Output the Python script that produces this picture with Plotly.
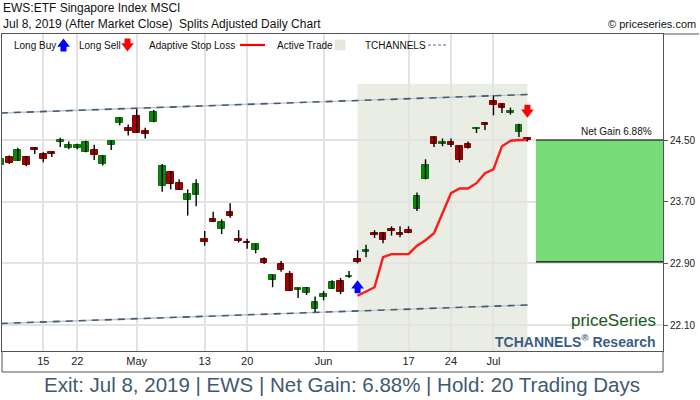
import plotly.graph_objects as go

# ---------------- data ----------------
TITLE = "EWS:ETF Singapore Index MSCI"
SUBTITLE = "Jul 8, 2019 (After Market Close)  Splits Adjusted Daily Chart"
COPYRIGHT = "© priceseries.com"
FOOTER = "Exit: Jul 8, 2019 | EWS | Net Gain: 6.88% | Hold: 20 Trading Days"
GAIN_LABEL = "Net Gain 6.88%"

DATES = [
    "2019-04-08", "2019-04-09", "2019-04-10", "2019-04-11", "2019-04-12",
    "2019-04-15", "2019-04-16", "2019-04-17", "2019-04-18",
    "2019-04-22", "2019-04-23", "2019-04-24", "2019-04-25", "2019-04-26",
    "2019-04-29", "2019-04-30", "2019-05-01", "2019-05-02", "2019-05-03",
    "2019-05-06", "2019-05-07", "2019-05-08", "2019-05-09", "2019-05-10",
    "2019-05-13", "2019-05-14", "2019-05-15", "2019-05-16", "2019-05-17",
    "2019-05-20", "2019-05-21", "2019-05-22", "2019-05-23", "2019-05-24",
    "2019-05-28", "2019-05-29", "2019-05-30", "2019-05-31",
    "2019-06-03", "2019-06-04", "2019-06-05", "2019-06-06", "2019-06-07",
    "2019-06-10", "2019-06-11", "2019-06-12", "2019-06-13", "2019-06-14",
    "2019-06-17", "2019-06-18", "2019-06-19", "2019-06-20", "2019-06-21",
    "2019-06-24", "2019-06-25", "2019-06-26", "2019-06-27", "2019-06-28",
    "2019-07-01", "2019-07-02", "2019-07-03", "2019-07-05", "2019-07-08",
]
OPEN = [24.18, 24.28, 24.23, 24.28, 24.40, 24.32, 24.34, 24.47, 24.40, 24.40,
        24.34, 24.37, 24.19, 24.43, 24.72, 24.66, 24.81, 24.62, 24.73, 23.90,
        24.09, 23.94, 23.72, 23.79, 23.21, 23.48, 23.34, 23.57, 23.22, 23.18,
        23.07, 22.96, 22.69, 22.89, 22.76, 22.56, 22.51, 22.31, 22.46, 22.57,
        22.67, 22.72, 22.95, 23.05, 23.29, 23.30, 23.34, 23.29, 23.33, 23.61,
        23.99, 24.54, 24.45, 24.47, 24.42, 24.45, 24.64, 24.72, 25.01, 24.97,
        24.85, 24.61, 24.53]
HIGH = [24.27, 24.30, 24.40, 24.29, 24.41, 24.34, 24.35, 24.53, 24.48, 24.45,
        24.49, 24.44, 24.30, 24.49, 24.79, 24.70, 24.90, 24.66, 24.89, 24.19,
        24.10, 23.99, 23.86, 23.99, 23.32, 23.57, 23.47, 23.68, 23.33, 23.22,
        23.15, 22.98, 22.75, 22.93, 22.80, 22.58, 22.59, 22.47, 22.54, 22.68,
        22.71, 22.80, 23.07, 23.14, 23.33, 23.30, 23.38, 23.38, 23.38, 23.82,
        24.25, 24.54, 24.52, 24.52, 24.42, 24.48, 24.66, 24.73, 25.08, 24.97,
        24.92, 24.71, 24.53]
LOW = [24.17, 24.19, 24.23, 24.16, 24.32, 24.21, 24.28, 24.41, 24.38, 24.38,
       24.34, 24.24, 24.17, 24.37, 24.69, 24.56, 24.59, 24.52, 24.73, 23.83,
       23.86, 23.85, 23.52, 23.64, 23.13, 23.44, 23.28, 23.49, 23.17, 23.09,
       23.03, 22.89, 22.59, 22.79, 22.54, 22.45, 22.49, 22.27, 22.42, 22.57,
       22.50, 22.71, 22.90, 22.98, 23.23, 23.16, 23.26, 23.24, 23.29, 23.58,
       23.99, 24.41, 24.42, 24.41, 24.21, 24.39, 24.59, 24.63, 24.82, 24.85,
       24.83, 24.54, 24.48]
CLOSE = [24.26, 24.20, 24.37, 24.18, 24.37, 24.25, 24.32, 24.50, 24.44, 24.44,
         24.47, 24.30, 24.29, 24.49, 24.79, 24.62, 24.59, 24.58, 24.86, 24.16,
         23.93, 23.85, 23.80, 23.93, 23.18, 23.44, 23.44, 23.52, 23.19, 23.16,
         23.15, 22.91, 22.75, 22.81, 22.54, 22.58, 22.58, 22.40, 22.50, 22.66,
         22.53, 22.74, 22.92, 23.07, 23.27, 23.20, 23.32, 23.27, 23.30, 23.78,
         24.17, 24.45, 24.47, 24.44, 24.24, 24.39, 24.66, 24.70, 24.96, 24.92,
         24.88, 24.69, 24.50]

ENTRY_DATE = "2019-06-07"
EXIT_DATE = "2019-07-08"
ENTRY_PRICE = 22.92
EXIT_PRICE = 24.50
# adaptive stop loss, one value per day from entry to exit
STOP_LOSS = [22.48, 22.54, 22.59, 22.98, 23.02, 23.02, 23.02, 23.13, 23.20,
             23.29, 23.55, 23.81, 23.87, 23.87, 23.94, 24.07, 24.12, 24.42,
             24.49, 24.50, 24.50]
BUY_ARROW_PRICE = 22.61
SELL_ARROW_PRICE = 24.86
ACTIVE_TRADE_TOP = 25.23
CHANNEL_DATES = ["2019-04-08", "2019-07-08"]
CHANNEL_UPPER = [24.85, 25.09]
CHANNEL_LOWER = [22.12, 22.36]

TICK_DATES = ["2019-04-15", "2019-04-22", "2019-05-01", "2019-05-13", "2019-05-20",
              "2019-06-03", "2019-06-17", "2019-06-24", "2019-07-01"]
TICK_LABELS = ["15", "22", "May", "13", "20", "Jun", "17", "24", "Jul"]
Y_TICKS = [22.10, 22.90, 23.70, 24.50]

LEGEND_ITEMS = ["Long Buy", "Long Sell", "Adaptive Stop Loss", "Active Trade", "TCHANNELS"]

# ---------------- layout constants ----------------
W, H = 700, 400
ML, MR, MT, MB = 2, 37, 34, 49
PW, PH = W - ML - MR, H - MT - MB
X_RANGE = [0.14, 77.96]
Y_RANGE = [21.763, 25.875]
PX_PRICE = PH / (Y_RANGE[1] - Y_RANGE[0])

GREEN, GREEN_EDGE = "#0d860d", "#067306"
RED, RED_EDGE = "#a80000", "#8a0000"
GRID = "#e3e3e3"
FRAME = "#555555"
SANS = "Liberation Sans, Arial, sans-serif"


def px_x(p):
    return (p - ML) / PW


def px_y(p):
    return (H - MB - p) / PH


idx = {d: i for i, d in enumerate(DATES)}
xs = list(range(len(DATES)))
e_i, x_i = idx[ENTRY_DATE], idx[EXIT_DATE]

fig = go.Figure()

# channel lines (light underlay + dark dashes)
cx = [idx[d] for d in CHANNEL_DATES]
for ch in (CHANNEL_UPPER, CHANNEL_LOWER):
    fig.add_trace(go.Scatter(x=cx, y=ch, mode="lines",
                             line=dict(color="#bcc4cc", width=1.4),
                             hoverinfo="skip", showlegend=False))
    fig.add_trace(go.Scatter(x=cx, y=ch, mode="lines",
                             line=dict(color="#455b71", width=1.6, dash="7px,6px"),
                             hoverinfo="skip", showlegend=False))

# adaptive stop loss
fig.add_trace(go.Scatter(x=xs[e_i:x_i + 1], y=STOP_LOSS, mode="lines",
                         line=dict(color="#ff1a1a", width=2.4),
                         hoverinfo="skip", showlegend=False))

# wicks
wx, wy = [], []
for i in xs:
    wx += [i, i, None]
    wy += [LOW[i], HIGH[i], None]
fig.add_trace(go.Scatter(x=wx, y=wy, mode="lines",
                         line=dict(color="#000000", width=1.4),
                         hoverinfo="skip", showlegend=False))

# candle bodies
up = [c >= o for o, c in zip(OPEN, CLOSE)]
fig.add_trace(go.Bar(
    x=xs,
    y=[abs(c - o) for o, c in zip(OPEN, CLOSE)],
    base=[min(o, c) for o, c in zip(OPEN, CLOSE)],
    width=0.78,
    marker=dict(color=[GREEN if u else RED for u in up],
                line=dict(color=[GREEN_EDGE if u else RED_EDGE for u in up], width=1)),
    hoverinfo="skip", showlegend=False))


def add_arrow(x, y, direction, color, xaxis="x", yaxis="y", px_unit=PX_PRICE):
    off = 4.5 / px_unit
    if direction == "up":
        tri, sq = "triangle-up", y - off
    else:
        tri, sq = "triangle-down", y + off
    fig.add_trace(go.Scatter(x=[x], y=[sq], mode="markers", xaxis=xaxis, yaxis=yaxis,
                             marker=dict(symbol="square", size=6, color=color, line=dict(width=0)),
                             hoverinfo="skip", showlegend=False))
    fig.add_trace(go.Scatter(x=[x], y=[y], mode="markers", xaxis=xaxis, yaxis=yaxis,
                             marker=dict(symbol=tri, size=11, color=color, line=dict(width=0)),
                             hoverinfo="skip", showlegend=False))


add_arrow(e_i, BUY_ARROW_PRICE, "up", "#0000ff")
add_arrow(x_i, SELL_ARROW_PRICE, "down", "#ff0000")

# legend arrows on an overlay axis in paper units
add_arrow(px_x(63.5), px_y(44), "up", "#0000ff", "x2", "y2", PH)
add_arrow(px_x(127.5), px_y(46), "down", "#ff0000", "x2", "y2", PH)

shapes = [
    # active trade shading
    dict(type="rect", xref="x", yref="y", x0=e_i, x1=x_i, y0=Y_RANGE[0], y1=ACTIVE_TRADE_TOP,
         fillcolor="#eaede3", line=dict(width=0), layer="below"),
    # net gain box
    dict(type="rect", xref="x", yref="y", x0=x_i + 1, x1=X_RANGE[1], y0=ENTRY_PRICE, y1=EXIT_PRICE,
         fillcolor="#78dc78", line=dict(width=0), layer="above"),
    dict(type="line", xref="x", yref="y", x0=x_i + 1, x1=X_RANGE[1], y0=EXIT_PRICE, y1=EXIT_PRICE,
         line=dict(color="#000000", width=1.2), layer="above"),
    dict(type="line", xref="x", yref="y", x0=x_i + 1, x1=X_RANGE[1], y0=ENTRY_PRICE, y1=ENTRY_PRICE,
         line=dict(color="#000000", width=1.2), layer="above"),
    # frame around x labels and top extension
    dict(type="line", xref="paper", yref="paper", x0=0, x1=0, y0=0, y1=px_y(372),
         line=dict(color=FRAME, width=1)),
    dict(type="line", xref="paper", yref="paper", x0=1, x1=1, y0=0, y1=px_y(372),
         line=dict(color=FRAME, width=1)),
    dict(type="line", xref="paper", yref="paper", x0=0, x1=1, y0=px_y(372), y1=px_y(372),
         line=dict(color=FRAME, width=1)),
    dict(type="line", xref="paper", yref="paper", x0=1, x1=px_x(699), y0=1, y1=1,
         line=dict(color=FRAME, width=1)),
    # legend glyphs
    dict(type="line", xref="paper", yref="paper", x0=px_x(240), x1=px_x(265), y0=px_y(45), y1=px_y(45),
         line=dict(color="#ff0000", width=2.2)),
    dict(type="rect", xref="paper", yref="paper", x0=px_x(335), x1=px_x(345), y0=px_y(50), y1=px_y(40),
         fillcolor="#e6e9de", line=dict(color="#dcdfd3", width=0.5)),
    dict(type="line", xref="paper", yref="paper", x0=px_x(428), x1=px_x(447), y0=px_y(45), y1=px_y(45),
         line=dict(color="#4a6aa0", width=1, dash="3px,2px")),
]

legend_left = [11.5, 76.5, 146.5, 274.5, 362.5]
annotations = [
    dict(text=TITLE, x=px_x(1), y=px_y(8), xref="paper", yref="paper", xanchor="left",
         yanchor="middle", showarrow=False, font=dict(size=12, color="#111111", family=SANS)),
    dict(text=SUBTITLE, x=px_x(1), y=px_y(24), xref="paper", yref="paper", xanchor="left",
         yanchor="middle", showarrow=False, font=dict(size=12, color="#111111", family=SANS)),
    dict(text=COPYRIGHT, x=px_x(698), y=px_y(24), xref="paper", yref="paper", xanchor="right",
         yanchor="middle", showarrow=False, font=dict(size=11, color="#111111", family=SANS)),
    dict(text=FOOTER, x=px_x(342), y=px_y(384), xref="paper", yref="paper", xanchor="center",
         yanchor="middle", showarrow=False, font=dict(size=20.5, color="#3e5a72", family=SANS)),
    dict(text=GAIN_LABEL, x=px_x(654), y=EXIT_PRICE, xref="paper", yref="y", xanchor="right",
         yanchor="bottom", yshift=1, showarrow=False, font=dict(size=10, color="#111111", family=SANS)),
    dict(text="priceSeries", x=px_x(658), y=px_y(320), xref="paper", yref="paper", xanchor="right",
         yanchor="middle", showarrow=False, font=dict(size=17, color="#1a5a1a", family=SANS)),
    dict(text="TCHANNELS<sup>®</sup> Research", x=px_x(658), y=px_y(341), xref="paper", yref="paper",
         xanchor="right", yanchor="middle", showarrow=False,
         font=dict(size=14, color="#3a5d86", family=SANS, weight="bold")),
]
for label, lx in zip(LEGEND_ITEMS, legend_left):
    annotations.append(dict(text=label, x=px_x(lx), y=px_y(45), xref="paper", yref="paper",
                            xanchor="left", yanchor="middle", showarrow=False,
                            font=dict(size=10, color="#111111", family=SANS)))

fig.update_layout(
    width=W, height=H,
    margin=dict(l=ML, r=MR, t=MT, b=MB, pad=0),
    paper_bgcolor="#ffffff", plot_bgcolor="#ffffff",
    font=dict(family=SANS, size=10, color="#222222"),
    showlegend=False, bargap=0,
    shapes=shapes, annotations=annotations,
    xaxis=dict(range=X_RANGE, tickvals=[idx[d] for d in TICK_DATES], ticktext=TICK_LABELS,
               showgrid=True, gridcolor=GRID, gridwidth=1.5, zeroline=False,
               showline=True, linecolor=FRAME, linewidth=1, mirror=True, ticks="",
               tickfont=dict(family=SANS, size=11, color="#222222"), fixedrange=True),
    yaxis=dict(range=Y_RANGE, side="right", tickvals=Y_TICKS, ticktext=[f"{v:.2f}" for v in Y_TICKS],
               showgrid=True, gridcolor=GRID, gridwidth=1.5, zeroline=False,
               showline=True, linecolor=FRAME, linewidth=1, mirror=True,
               ticks="outside", ticklen=4, tickcolor=FRAME,
               tickfont=dict(family=SANS, size=10, color="#222222"), fixedrange=True),
    xaxis2=dict(range=[0, 1], overlaying="x", visible=False, fixedrange=True),
    yaxis2=dict(range=[0, 1], overlaying="y", visible=False, fixedrange=True),
)

fig.write_html("out.html", config={"displayModeBar": False},
               post_script="document.body.style.margin='0';document.body.style.overflow='hidden';")
